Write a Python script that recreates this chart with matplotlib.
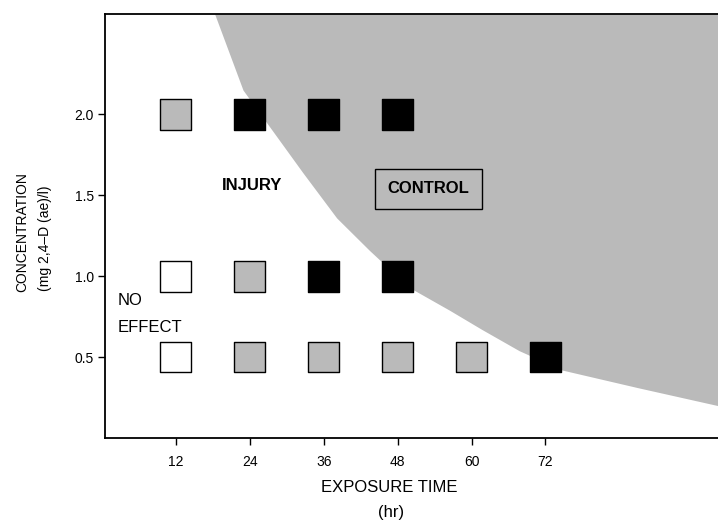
import matplotlib.pyplot as plt

# response of plants to 2,4-D by exposure time and concentration
times = [12, 24, 36, 48, 12, 24, 36, 48, 12, 24, 36, 48, 60, 72]
concs = [2.0, 2.0, 2.0, 2.0, 1.0, 1.0, 1.0, 1.0, 0.5, 0.5, 0.5, 0.5, 0.5, 0.5]
response = ["injury", "control", "control", "control",
            "none", "injury", "control", "control",
            "none", "injury", "injury", "injury", "injury", "control"]

# boundary of the shaded "control" zone
bound_x = [18.3, 22.9, 28.8, 32.6, 38.1, 43.4, 49.9, 56.4, 61.7, 67.7, 74.7, 87.1, 100.0]
bound_y = [2.62, 2.15, 1.84, 1.64, 1.36, 1.16, 0.93, 0.79, 0.67, 0.54, 0.42, 0.31, 0.20]

xticks = [12, 24, 36, 48, 60, 72]
yticks = [0.5, 1.0, 1.5, 2.0]

plt.rcParams['font.family'] = ['Liberation Sans', 'DejaVu Sans']

stip = "#bababa"
fills = {"none": "white", "injury": stip, "control": "black"}

fig = plt.figure(figsize=(7.18, 5.21), dpi=100)
ax = fig.add_axes([105 / 718, 83 / 521, 613 / 718, 424 / 521])

ax.fill_between(bound_x, bound_y, 2.62, color=stip, linewidth=0, zorder=1)

ax.scatter(times, concs, s=490, marker="s",
           c=[fills[r] for r in response], edgecolors="black",
           linewidths=1.0, zorder=3)

ax.text(2.6, 0.85, "NO", fontsize=12, va="center", ha="left")
ax.text(2.6, 0.68, "EFFECT", fontsize=12, va="center", ha="left")
ax.text(24.3, 1.56, "INJURY", fontsize=12, va="center", ha="center", fontweight="bold")
ax.text(53.0, 1.54, "CONTROL", fontsize=12, va="center", ha="center", fontweight="bold",
        bbox=dict(boxstyle="square,pad=0.75", facecolor=stip, edgecolor="black", linewidth=1))

ax.set_xlim(0.5, 100.0)
ax.set_ylim(0.0, 2.62)
ax.set_xticks(xticks)
ax.set_xticklabels([str(t) for t in xticks])
ax.set_yticks(yticks)
ax.set_yticklabels(["%.1f" % v for v in yticks])
ax.tick_params(direction="out", length=5, width=1, labelsize=10, pad=7)
ax.tick_params(axis="y", pad=3)
ax.spines["right"].set_visible(False)
for s in ["left", "bottom", "top"]:
    ax.spines[s].set_linewidth(1.3)

fig.text(389 / 718, 1 - 487 / 521, "EXPOSURE TIME", ha="center", va="center", fontsize=12)
fig.text(391 / 718, 1 - 513 / 521, "(hr)", ha="center", va="center", fontsize=12)
fig.text(22 / 718, 1 - 232 / 521, "CONCENTRATION", rotation=90, ha="center", va="center", fontsize=10)
fig.text(45 / 718, 1 - 238 / 521, "(mg 2,4\u2013D (ae)/l)", rotation=90, ha="center", va="center", fontsize=10)

fig.savefig("out.png", dpi=100)
